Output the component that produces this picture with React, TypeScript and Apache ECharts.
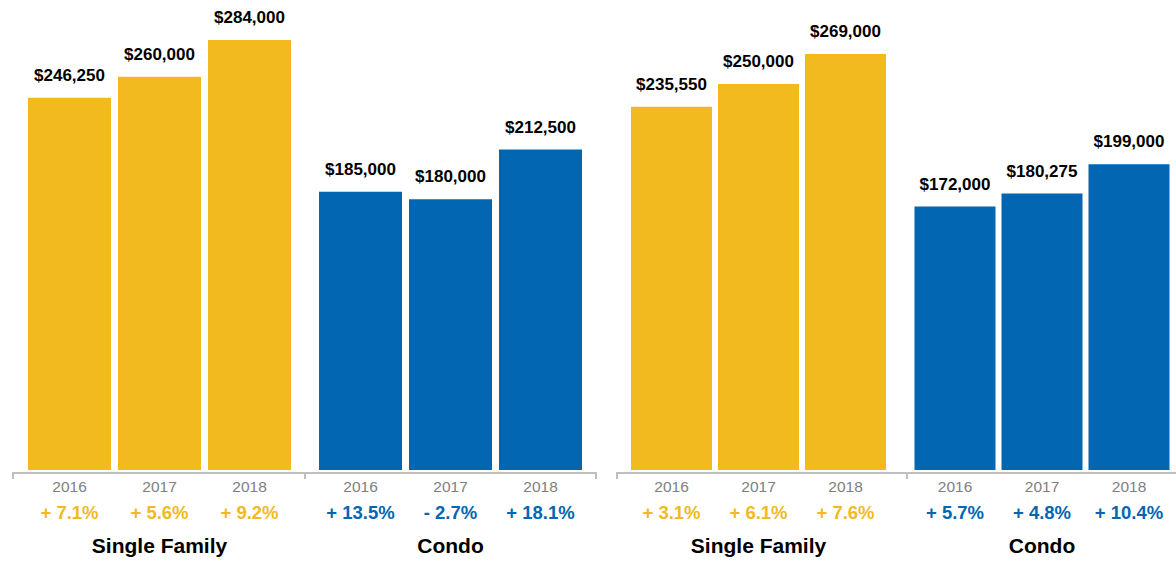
import React, { useEffect, useRef } from "react";
import * as echarts from "echarts";

const years = ["2016", "2017", "2018"];
const leftSingle = [246250, 260000, 284000];
const leftCondo = [185000, 180000, 212500];
const leftSinglePct = ["+ 7.1%", "+ 5.6%", "+ 9.2%"];
const leftCondoPct = ["+ 13.5%", "- 2.7%", "+ 18.1%"];
const rightSingle = [235550, 250000, 269000];
const rightCondo = [172000, 180275, 199000];
const rightSinglePct = ["+ 3.1%", "+ 6.1%", "+ 7.6%"];
const rightCondoPct = ["+ 5.7%", "+ 4.8%", "+ 10.4%"];
const groupNames = ["Single Family", "Condo"];
// value-axis floors as drawn in the original (bars start slightly above zero)
const leftAxisMin = 3300;
const rightAxisMin = 4600;

const YELLOW = "#F3BA1F";
const BLUE = "#0266B3";
const FONT = "'Liberation Sans', Arial, Helvetica, sans-serif";

export default function App() {
  const ref = useRef<HTMLDivElement>(null);
  useEffect(() => {
    document.body.style.margin = "0";
    if (!ref.current) return;
    const chart = echarts.init(ref.current, undefined, { renderer: "svg" });

    const leftMax = Math.max(...leftSingle, ...leftCondo);
    const rightMax = Math.max(...rightSingle, ...rightCondo);

    const groups = [
      { data: leftSingle, pct: leftSinglePct, color: YELLOW, name: groupNames[0], left: 24.5, width: 270, top: 40, height: 431, min: leftAxisMin, max: leftMax, barWidth: 83 },
      { data: leftCondo, pct: leftCondoPct, color: BLUE, name: groupNames[1], left: 315.5, width: 270, top: 40, height: 431, min: leftAxisMin, max: leftMax, barWidth: 83 },
      { data: rightSingle, pct: rightSinglePct, color: YELLOW, name: groupNames[0], left: 628, width: 261, top: 54, height: 417, min: rightAxisMin, max: rightMax, barWidth: 81 },
      { data: rightCondo, pct: rightCondoPct, color: BLUE, name: groupNames[1], left: 911.5, width: 261, top: 54, height: 417, min: rightAxisMin, max: rightMax, barWidth: 81 },
    ];

    const axisColor = "#BFBFBF";
    const lineY = 473;
    const tickLen = 6;
    const mkLine = (x1: number, y1: number, x2: number, y2: number) => ({
      type: "line",
      shape: { x1, y1, x2, y2 },
      style: { stroke: axisColor, lineWidth: 2 },
      silent: true,
    });

    const option: any = {
      animation: false,
      backgroundColor: "#ffffff",
      grid: groups.map((g) => ({ left: g.left, width: g.width, top: g.top, height: g.height, containLabel: false })),
      xAxis: groups.map((g, i) => ({
        type: "category",
        gridIndex: i,
        data: years,
        axisLine: { show: false },
        axisTick: { show: false },
        axisLabel: {
          margin: 3,
          interval: 0,
          formatter: (v: string, idx: number) => `{y|${v}}\n{p|${g.pct[idx]}}`,
          rich: {
            y: { fontFamily: FONT, fontSize: 15.5, color: "#808080", lineHeight: 26 },
            p: { fontFamily: FONT, fontSize: 18.5, fontWeight: "bold", color: g.color, lineHeight: 26 },
          },
        },
        name: g.name,
        nameLocation: "middle",
        nameGap: 65,
        nameTextStyle: { fontFamily: FONT, fontSize: 21, fontWeight: "bold", color: "#000000" },
      })),
      yAxis: groups.map((g, i) => ({
        type: "value",
        gridIndex: i,
        min: g.min,
        max: g.max,
        show: false,
        splitLine: { show: false },
      })),
      series: groups.map((g, i) => ({
        type: "bar",
        xAxisIndex: i,
        yAxisIndex: i,
        data: g.data,
        barWidth: g.barWidth,
        itemStyle: { color: g.color },
        label: {
          show: true,
          position: "top",
          distance: 14,
          fontFamily: FONT,
          fontSize: 17,
          fontWeight: "bold",
          color: "#000000",
          formatter: (p: any) => "$" + Number(p.value).toLocaleString("en-US"),
        },
      })),
      graphic: [
        mkLine(13, lineY, 596, lineY),
        mkLine(13, lineY - 1, 13, lineY + tickLen),
        mkLine(305, lineY, 305, lineY + tickLen),
        mkLine(596, lineY - 1, 596, lineY + tickLen),
        mkLine(617, lineY, 1176, lineY),
        mkLine(617, lineY - 1, 617, lineY + tickLen),
        mkLine(907, lineY, 907, lineY + tickLen),
      ],
    };
    chart.setOption(option);
    return () => chart.dispose();
  }, []);
  return <div ref={ref} style={{ width: 1176, height: 561 }} />;
}
